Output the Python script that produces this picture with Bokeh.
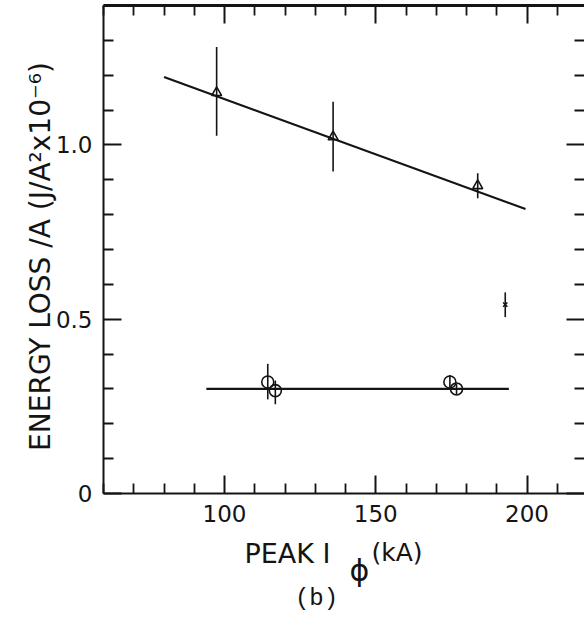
from bokeh.plotting import figure
from bokeh.models import Range1d, FixedTicker, LinearAxis, Label, CustomJSTickFormatter
from bokeh.embed import file_html
from bokeh.resources import INLINE

# ---- data ----
tri_x = [97.4, 135.9, 183.7]
tri_y = [1.150, 1.023, 0.883]
tri_lo = [1.026, 0.924, 0.847]
tri_hi = [1.281, 1.124, 0.919]

circ_x = [114.3, 116.8, 174.5, 176.7]
circ_y = [0.320, 0.295, 0.320, 0.300]
circ_lo = [0.270, 0.256, 0.300, 0.284]
circ_hi = [0.372, 0.324, 0.340, 0.314]

cross_x = [192.8]
cross_y = [0.542]
cross_lo = [0.506]
cross_hi = [0.577]

fit1_x = [80.0, 199.5]
fit1_y = [1.195, 0.816]
fit2_x = [94.0, 194.0]
fit2_y = [0.300, 0.300]

x_ticks = [100, 150, 200]
x_minor = [60, 70, 80, 90, 110, 120, 130, 140, 160, 170, 180, 190, 210]
y_ticks = [0, 0.5, 1.0]
y_tick_labels = ["0", "0.5", "1.0"]
y_minor = [0.1, 0.2, 0.3, 0.4, 0.6, 0.7, 0.8, 0.9, 1.1, 1.2, 1.3, 1.4]

X0, X1 = 60, 219      # axis extent (x)
Y0, Y1 = 0.0, 1.4     # axis extent (y)

# page geometry (pixels)
W, H = 584, 617
AX_L, AX_R, AX_T, AX_B = 103, 584, 5, 493

sx = (AX_R - AX_L) / (X1 - X0)
sy = (AX_B - AX_T) / (Y1 - Y0)
def dx(px):
    return X0 + (px - AX_L) / sx
def dy(py):
    return Y0 + (AX_B - py) / sy

p = figure(width=W, height=H, x_range=Range1d(dx(0), dx(W)), y_range=Range1d(dy(H), dy(0)),
           output_backend="svg", toolbar_location=None,
           x_axis_location=None, y_axis_location=None, min_border=0)
p.grid.visible = False
p.outline_line_color = None
p.background_fill_color = "white"
p.border_fill_color = "white"

INK = "#141414"
NUMFONT = "DejaVu Sans"

def style_axis(ax, show_labels, line=True):
    ax.axis_line_color = INK if line else None
    ax.axis_line_width = 2
    ax.major_tick_in = 18
    ax.major_tick_out = 0
    ax.minor_tick_in = 10
    ax.minor_tick_out = 0
    ax.major_tick_line_color = INK
    ax.minor_tick_line_color = INK
    ax.major_tick_line_width = 2
    ax.minor_tick_line_width = 1.8
    if show_labels:
        ax.major_label_text_font = NUMFONT
        ax.major_label_text_font_size = "23px"
        ax.major_label_text_color = INK
    else:
        ax.formatter = CustomJSTickFormatter(code="return ''")
        ax.major_label_text_font_size = "0px"
        ax.major_label_standoff = 0

xt = FixedTicker(ticks=x_ticks, minor_ticks=x_minor)
yt = FixedTicker(ticks=y_ticks, minor_ticks=y_minor)

xb = LinearAxis(ticker=xt, fixed_location=Y0, bounds=(X0, X1))
style_axis(xb, True)
xb.major_label_standoff = 11
p.add_layout(xb, "below")

yl = LinearAxis(ticker=yt, fixed_location=X0, bounds=(Y0, Y1))
style_axis(yl, True)
yl.major_label_standoff = 11
yl.major_label_overrides = {t: s for t, s in zip(y_ticks, y_tick_labels)}
p.add_layout(yl, "left")

xa = LinearAxis(ticker=xt, fixed_location=Y1, bounds=(X0, X1))
style_axis(xa, False)
xa.axis_line_width = 2.8
p.add_layout(xa, "above")

yr = LinearAxis(ticker=yt, fixed_location=X1, bounds=(Y0, Y1))
style_axis(yr, False, line=False)
p.add_layout(yr, "right")

# ---- fits ----
p.line(fit1_x, fit1_y, line_color=INK, line_width=2.2)
p.line(fit2_x, fit2_y, line_color=INK, line_width=2.2)

# ---- error bars ----
p.segment(x0=tri_x, y0=tri_lo, x1=tri_x, y1=tri_hi, line_color=INK, line_width=1.6)
p.segment(x0=circ_x, y0=circ_lo, x1=circ_x, y1=circ_hi, line_color=INK, line_width=1.6)
p.segment(x0=cross_x, y0=cross_lo, x1=cross_x, y1=cross_hi, line_color=INK, line_width=1.6)

# ---- markers ----
p.scatter(tri_x, tri_y, marker="triangle", size=10, fill_color=None, line_color=INK, line_width=1.6)
p.scatter(circ_x, circ_y, marker="circle", size=12, fill_color=None, line_color=INK, line_width=1.6)
p.scatter(cross_x, cross_y, marker="x", size=6, line_color=INK, line_width=1.6)

# ---- text ----
p.add_layout(Label(x=dx(40), y=dy(256), text="ENERGY LOSS /A (J/A²x10⁻⁶)", angle=90, angle_units="deg",
                   text_align="center", text_baseline="middle", text_font=NUMFONT,
                   text_font_size="28px", text_color=INK))
p.add_layout(Label(x=dx(244), y=dy(553), text="PEAK I", text_align="left", text_baseline="middle",
                   text_font=NUMFONT, text_font_size="27px", text_color=INK))
p.add_layout(Label(x=dx(359), y=dy(570), text="ϕ", text_align="center", text_baseline="middle",
                   text_font=NUMFONT, text_font_size="30px", text_color=INK))
p.add_layout(Label(x=dx(371), y=dy(552), text="(kA)", text_align="left", text_baseline="middle",
                   text_font=NUMFONT, text_font_size="25px", text_color=INK))
p.add_layout(Label(x=dx(316), y=dy(598), text="(b)", text_align="center", text_baseline="middle",
                   text_font="Liberation Mono", text_font_size="24px", text_color=INK))

open("out.html", "w").write(file_html(p, INLINE))
